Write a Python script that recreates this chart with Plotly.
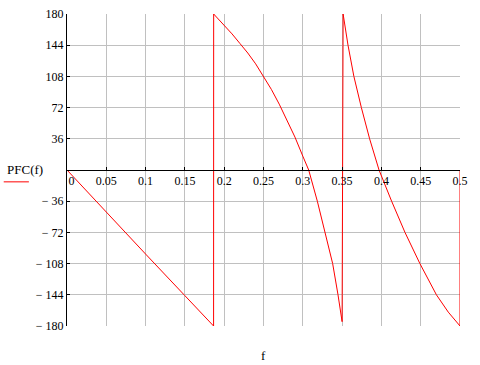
import plotly.graph_objects as go

# Phase PFC(f) in degrees
f_vals = [0.0, 0.05, 0.1, 0.15, 0.1865,
          0.1866, 0.2, 0.21, 0.22, 0.23, 0.24, 0.25, 0.26, 0.27, 0.28, 0.29, 0.30, 0.3075,
          0.3185, 0.3285, 0.3380, 0.3448, 0.3500,
          0.3513, 0.3575, 0.365, 0.3745, 0.385, 0.397, 0.413, 0.430, 0.449, 0.470, 0.4851, 0.5,
          0.5]
pfc_vals = [0, -49, -97, -145, -180,
            180, 167, 157, 146, 135, 122.5, 108.5, 93, 76, 57, 38, 16, 0,
            -36, -72, -108, -144, -175,
            180, 144, 108, 72, 36, 0, -36, -72, -108, -144, -164, -180,
            0]

x_ticks = [0, 0.05, 0.1, 0.15, 0.2, 0.25, 0.3, 0.35, 0.4, 0.45, 0.5]
x_labels = ["\u00a0\u00a0\u00a00", "0.05", "0.1", "0.15", "0.2", "0.25", "0.3", "0.35", "0.4", "0.45", "0.5"]
y_ticks = [180, 144, 108, 72, 36, 0, -36, -72, -108, -144, -180]
y_labels = ["180", "144", "108", "72", "36", "", "\u2212 36", "\u2212 72", "\u2212 108", "\u2212 144", "\u2212 180"]

FONT = "Liberation Serif, Times New Roman, serif"

fig = go.Figure()
fig.add_trace(go.Scatter(x=f_vals, y=pfc_vals, mode="lines",
                         line=dict(color="#ff0000", width=1), showlegend=False,
                         hoverinfo="skip"))

fig.update_layout(
    width=480, height=365,
    margin=dict(l=67, r=20, t=14, b=39, autoexpand=False),
    paper_bgcolor="white", plot_bgcolor="white",
    font=dict(family=FONT, size=12, color="black"),
    xaxis=dict(range=[0, 0.5], tickvals=x_ticks, ticktext=x_labels,
               showgrid=True, gridcolor="#c0c0c0", gridwidth=1,
               zeroline=False, showline=True, linecolor="black", linewidth=1,
               anchor="free", position=0.5, automargin=False,
               ticks="inside", ticklen=3, tickcolor="black",
               tickfont=dict(family=FONT, size=12)),
    yaxis=dict(range=[-180, 180], tickvals=y_ticks, ticktext=y_labels,
               showgrid=True, gridcolor="#c0c0c0", gridwidth=1,
               zeroline=False, showline=True, linecolor="black", linewidth=1,
               automargin=False,
               ticks="inside", ticklen=3, tickcolor="black",
               tickfont=dict(family=FONT, size=12)),
    annotations=[
        dict(text="f", xref="paper", yref="paper", x=0.5, y=-0.095,
             xanchor="center", yanchor="middle", showarrow=False,
             font=dict(family=FONT, size=13)),
        dict(text="PFC(f)", xref="paper", x=-0.157, xanchor="left",
             yref="paper", y=0.5, yanchor="bottom", yshift=-9, showarrow=False,
             font=dict(family=FONT, size=13)),
    ],
    shapes=[
        dict(type="line", xref="paper", yref="paper",
             x0=-0.161, x1=-0.097, y0=0.462, y1=0.462,
             line=dict(color="#ff0000", width=1)),
    ],
)

fig.write_html("out.html", config={"displayModeBar": False},
               post_script="document.body.style.margin='0';document.body.style.overflow='hidden';")
